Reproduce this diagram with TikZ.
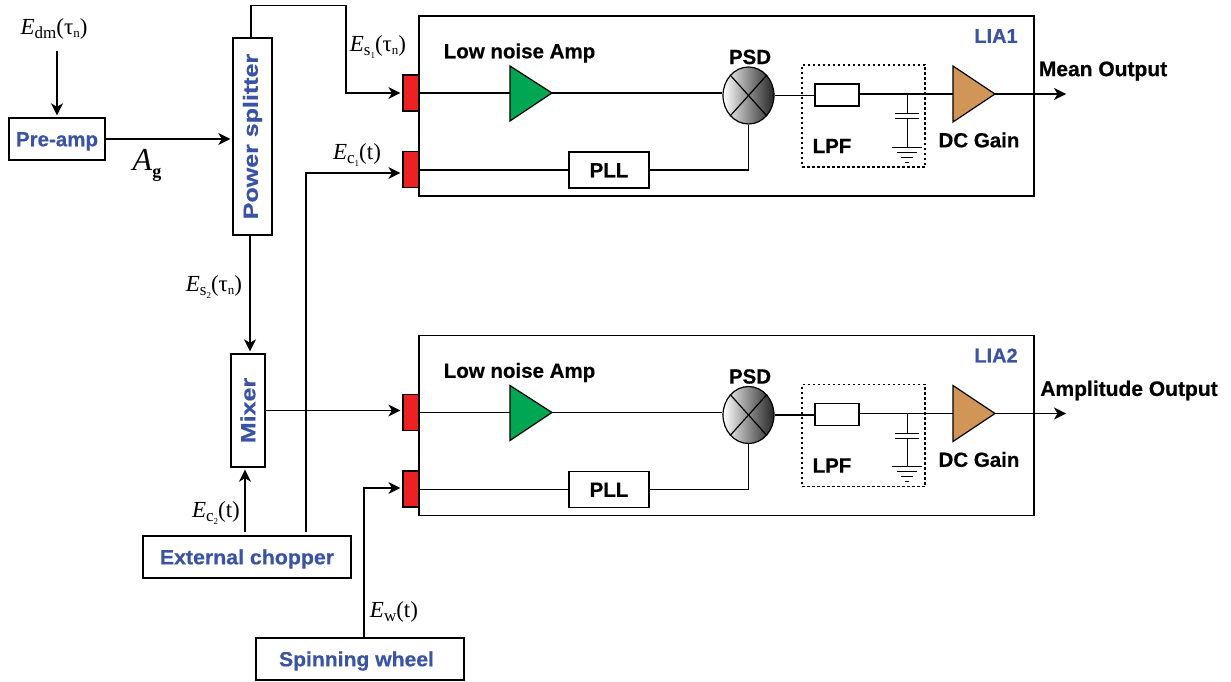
\documentclass[tikz,border=0pt]{standalone}
\usepackage{fontspec}
\setmainfont{Liberation Sans}[BoldFeatures={FakeBold=0.5}]
\newfontfamily\sigfont{Liberation Serif}
\usetikzlibrary{%
	calc,%
	arrows.meta,%
	shapes
}
\definecolor{labelblue}{HTML}{3A53A4}
\definecolor{portred}{HTML}{ED2024}
\definecolor{ampgreen}{HTML}{00A651}
\definecolor{gainbrown}{HTML}{D09557}
\tikzstyle{line}=[draw, line width=1.2pt]
\tikzstyle{sig}=[line, -{Stealth[length=12pt,width=12pt,inset=3.5pt]}, shorten >=2pt]
\tikzstyle{block}=[draw, line width=1.4pt, fill=white, inner sep=0pt, font=\fontsize{20.5}{22}\selectfont\bfseries]
\tikzstyle{blueblock}=[block, text=labelblue]
\tikzstyle{textblock}=[text height=17pt, text depth=2.4pt]
\tikzstyle{port}=[draw, line width=1.2pt, fill=portred, minimum width=16pt, minimum height=36pt, inner sep=0pt]
\tikzstyle{blacktext}=[inner sep=0pt, font=\fontsize{20.5}{22}\selectfont\bfseries]
\tikzstyle{siglabel}=[inner sep=0pt, font=\fontsize{23}{25}\selectfont\sigfont]
\newcommand{\sigtext}[3]{\textit{#1}\raisebox{-4pt}{\fontsize{17}{18}\selectfont #2}(#3)}
\newcommand{\subnum}[1]{\raisebox{-3pt}{\fontsize{9}{10}\selectfont #1}}
\newcommand{\smalltau}{τ\raisebox{-3pt}{\fontsize{13}{14}\selectfont n}}

\begin{document}
\begin{tikzpicture}[x=1pt, y=-1pt, line join=miter]
	\useasboundingbox (0,0) rectangle (1231,682);

	% Blocks on the left
	\node[blueblock, textblock, minimum width=96pt, minimum height=42pt] (preamp) at (57,139) {Pre-amp};
	\node[blueblock, minimum width=39pt, minimum height=197pt] (splitter) at (252.5,136.5) {\rotatebox{90}{\scalebox{1.22}[1]{Power splitter}}};
	\node[blueblock, minimum width=34pt, minimum height=113pt] (mixer) at (248,410.5) {\rotatebox{90}{\scalebox{1.22}[1]{Mixer}}};
	\node[blueblock, textblock, minimum width=208pt, minimum height=42pt] (chopper) at (247,557) {\scalebox{1.04}[1]{External chopper}};
	\node[blueblock, textblock, minimum width=208pt, minimum height=42pt] (wheel) at (360,659) {\hspace*{-7pt}\scalebox{1.03}[1]{Spinning wheel}};

	% The two lock-in amplifiers
	\foreach \lia/\dy/\outtext/\outx in {1/0/Mean Output/1103,2/319.5/Amplitude Output/1129}{
		\begin{scope}[shift={(0,\dy)}]
			\node[draw, line width=1.4pt, minimum width=615pt, minimum height=180pt, inner sep=0pt] (lia\lia) at (726.5,106) {};
			\node[port] (port\lia a) at (411,93) {};
			\node[port] (port\lia b) at (411,169.5) {};
			\node[text=labelblue, blacktext, font=\fontsize{20}{22}\selectfont\bfseries] (name\lia) at (996,36) {LIA\lia};

			\coordinate (ampin\lia) at (510,93);
			\coordinate (ampout\lia) at (552,93);
			\coordinate (gainin\lia) at (953,94);
			\coordinate (gainout\lia) at (995,94);
			\coordinate (capin\lia) at (907,94);
			\coordinate (capup\lia) at (907,114);
			\coordinate (capdown\lia) at (907,119);
			\coordinate (gnd\lia) at (907,147);
			\coordinate (out\lia) at (1068,94);

			\node[draw, line width=1.2pt, dash pattern=on 2.5pt off 2.5pt, minimum width=123pt, minimum height=102pt, inner sep=0pt] (lpfbox\lia) at (863.5,116) {};
			\node[draw, ellipse, line width=1.2pt, minimum width=51pt, minimum height=57pt, inner sep=0pt, left color=white, right color=black!85, middle color=black!45] (psd\lia) at (748.5,95.5) {};
			\node[block, minimum width=44pt, minimum height=22pt] (res\lia) at (837,95) {};
			\node[block, textblock, minimum width=80pt, minimum height=36pt] (pll\lia) at (609,170) {PLL};

			\draw[line] (port\lia a.east) -- (ampin\lia);
			\draw[line] (ampout\lia) -- (ampout\lia -| psd\lia.west);
			\draw[line] (psd\lia.east) -- (psd\lia.east -| res\lia.west);
			\draw[line] (res\lia.east |- gainin\lia) -- (gainin\lia);
			\draw[line] (port\lia b.east |- pll\lia.west) -- (pll\lia.west);
			\draw[line] (pll\lia.east) -| (psd\lia.south);
			\draw[line] (psd\lia.north west) -- (psd\lia.south east);
			\draw[line] (psd\lia.north east) -- (psd\lia.south west);
			\draw[sig] (gainout\lia) -- (out\lia);

			\draw[line, fill=ampgreen] (ampin\lia) -- ++(0,-27) -- (ampout\lia) -- (510,121) -- cycle;
			\draw[line, fill=gainbrown] (gainin\lia) -- ++(0,-28) -- (gainout\lia) -- (953,122) -- cycle;

			% Capacitor and ground
			\draw[line, line width=1pt] (capin\lia) -- (capup\lia);
			\draw[line, line width=1pt] (capdown\lia) -- (gnd\lia);
			\draw[line, line width=1pt] ($(capup\lia)+(-12,0)$) -- ($(capup\lia)+(12,0)$);
			\draw[line, line width=1pt] ($(capdown\lia)+(-12,0)$) -- ($(capdown\lia)+(12,0)$);
			\foreach \step/\half in {0/15,5/10,10/6,15/2}
				\draw[line, line width=1pt] ($(gnd\lia)+(-\half,\step)$) -- ($(gnd\lia)+(\half,\step)$);

			\node[blacktext] (lna\lia) at (519.5,53) {Low noise Amp};
			\node[blacktext] (psdtext\lia) at (750,57) {PSD};
			\node[blacktext] (lpftext\lia) at (832,146) {LPF};
			\node[blacktext] (gaintext\lia) at (979,140) {DC Gain};
			\node[blacktext, font=\fontsize{21}{22}\selectfont\bfseries] (outtext\lia) at (\outx,71) {\outtext};
		\end{scope}
	}

	% Signal paths
	\coordinate (input) at (57,51);
	\draw[sig] (input) -- (preamp.north);
	\draw[sig] (preamp.east) -- (splitter.west |- preamp.east);
	\draw[sig] ([xshift=-1.5pt]splitter.north) -- ++(0,-32) -| (346,50) |- (port1a.west);
	\draw[sig] ([xshift=-2.5pt]splitter.south) -- ([xshift=2pt]mixer.north);
	\draw[sig] (mixer.east) -- (port2a.west |- mixer.east);
	\draw[sig] ([xshift=-2pt,yshift=3pt]chopper.north) -- ([xshift=-3pt]mixer.south);
	\draw[sig] ([xshift=59pt,yshift=3pt]chopper.north) |- ([yshift=-3.5pt]port1b.west);
	\draw[sig] ([xshift=4pt]wheel.north) |- ([yshift=1pt]port2b.west);

	% Signal names
	\node[siglabel] (edm) at (54,29) {\sigtext{E}{dm}{\smalltau}};
	\node[siglabel, font=\fontsize{32}{34}\selectfont\sigfont] (ag) at (147,165) {\textit{A}\raisebox{-7pt}{\fontsize{18}{19}\selectfont\bfseries g}};
	\node[siglabel] (es1) at (378,47) {\sigtext{E}{s\subnum{1}}{\smalltau}};
	\node[siglabel] (ec1) at (357,155) {\sigtext{E}{c\subnum{1}}{t}};
	\node[siglabel] (es2) at (214,287) {\sigtext{E}{s\subnum{2}}{\smalltau}};
	\node[siglabel] (ec2) at (216,513) {\sigtext{E}{c\subnum{2}}{t}};
	\node[siglabel] (ew) at (394,612) {\sigtext{E}{w}{t}};
\end{tikzpicture}
\end{document}
